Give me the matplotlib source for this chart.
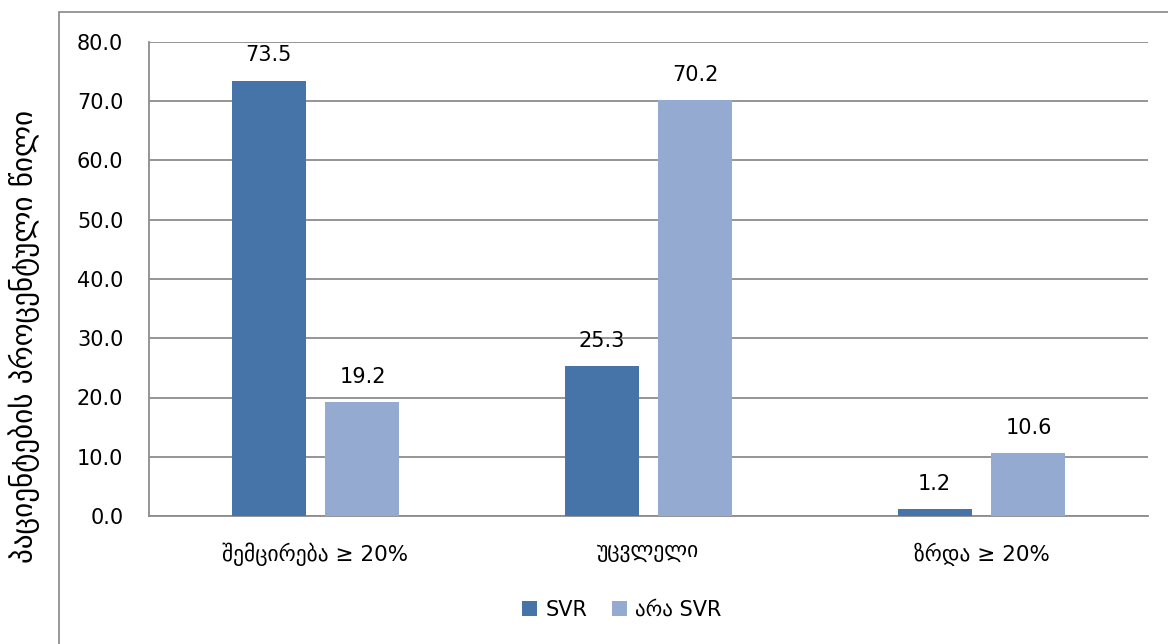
import numpy as np
import matplotlib.pyplot as plt
from matplotlib.patches import Rectangle

categories = ["შემცირება ≥ 20%", "უცვლელი", "ზრდა ≥ 20%"]
svr = [73.5, 25.3, 1.2]
non_svr = [19.2, 70.2, 10.6]
series_names = ["SVR", "არა SVR"]
y_ticks = [0, 10, 20, 30, 40, 50, 60, 70, 80]
y_label = "პაციენტების პროცენტული წილი"

plt.rcParams["font.family"] = ["DejaVu Sans"]

fig = plt.figure(figsize=(11.68, 6.44), dpi=100)
ax = fig.add_axes([149 / 1168, 1 - 516 / 644, (1148 - 149) / 1168, (516 - 42) / 644])

# outer chart frame (runs off the right and bottom edges)
fig.patches.append(Rectangle((59 / 1168, -0.1), 1.0, 1.1 - 12 / 644,
                             transform=fig.transFigure, fill=False,
                             edgecolor="#868686", linewidth=1.2))

x = np.arange(len(categories))
w = 0.222
off = 0.141
c1, c2 = "#4674A8", "#95AAD1"
b1 = ax.bar(x - off, svr, w, color=c1, label=series_names[0], zorder=3)
b2 = ax.bar(x + off, non_svr, w, color=c2, label=series_names[1], zorder=3)

for bars, vals in ((b1, svr), (b2, non_svr)):
    for r, v in zip(bars, vals):
        ax.annotate(f"{v:.1f}", (r.get_x() + r.get_width() / 2, v),
                    xytext=(0, 11), textcoords="offset points",
                    ha="center", va="bottom", fontsize=15)

ax.set_xlim(-0.5, 2.5)
ax.set_ylim(0, 80)
ax.set_yticks(y_ticks)
ax.set_yticklabels([f"{t:.1f}" for t in y_ticks], fontsize=15)
ax.set_xticks(x)
ax.set_xticklabels(categories, fontsize=15.5)
ax.tick_params(axis="both", length=0)
ax.tick_params(axis="y", pad=18.5)
ax.tick_params(axis="x", pad=19)
ax.yaxis.grid(True, color="#8c8c8c", linewidth=1.3, zorder=0)
ax.set_axisbelow(True)
for s in ("top", "right"):
    ax.spines[s].set_visible(False)
for s in ("left", "bottom"):
    ax.spines[s].set_color("#8c8c8c")
    ax.spines[s].set_linewidth(1.3)

fig.text(24 / 1168, 1 - 336 / 644, y_label, rotation=90,
         ha="center", va="center", fontsize=21)

fig.legend(loc="center", bbox_to_anchor=(622 / 1168, 1 - 610 / 644),
           ncol=2, frameon=False, fontsize=15, handlelength=0.7,
           handleheight=0.7, handletextpad=0.4, columnspacing=1.2)

plt.savefig("out.png", dpi=100)
plt.close()
